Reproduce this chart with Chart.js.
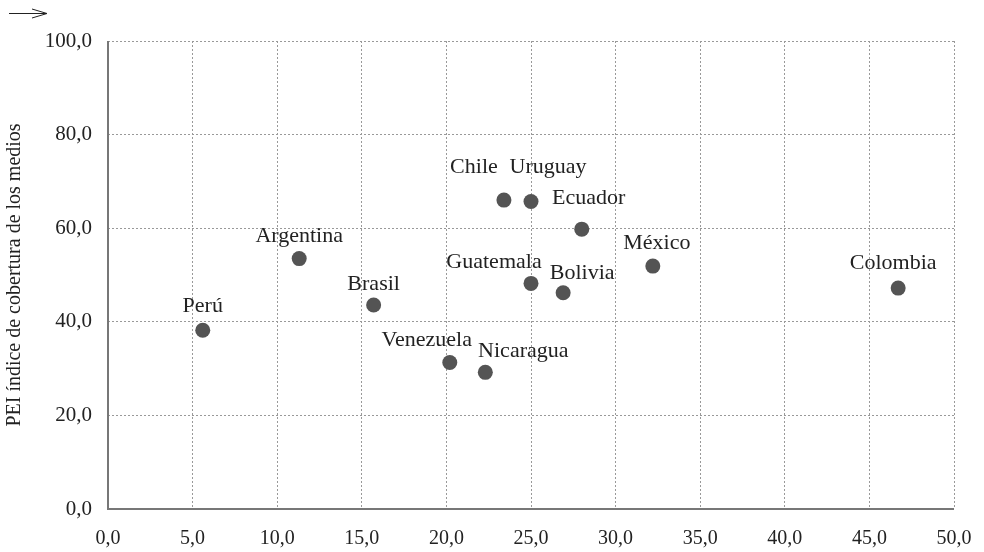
<!DOCTYPE html>
<html>
<head>
<meta charset="utf-8">
<script src="https://cdn.jsdelivr.net/npm/chart.js@4"></script>
<style>
  html, body { margin: 0; padding: 0; background: #fff; }
  #wrap { width: 984px; height: 552px; }
</style>
</head>
<body>
<div id="wrap"><canvas id="mychart"></canvas></div>
<script>
// Data
var countries = ["Perú", "Argentina", "Brasil", "Venezuela", "Nicaragua", "Chile",
                 "Uruguay", "Ecuador", "Guatemala", "Bolivia", "México", "Colombia"];
var xValues = [5.6, 11.3, 15.7, 20.2, 22.3, 23.4, 25.0, 28.0, 25.0, 26.9, 32.2, 46.7];
var yValues = [38.2, 53.5, 43.6, 31.3, 29.2, 66.0, 65.7, 59.8, 48.2, 46.2, 51.9, 47.2];
var xTicks = [0, 5, 10, 15, 20, 25, 30, 35, 40, 45, 50];
var yTicks = [0, 20, 40, 60, 80, 100];
var yTitle = "PEI índice de cobertura de los medios";

// where each label sits relative to its point (px, text baseline)
var labelDx = [0, 0, 0, -23, 38, -30, 17, 7, -37, 19, 4, -5];
var labelDy = [-18, -17, -15, -17, -15, -27, -29, -25, -15, -14, -17, -19];

var serif = "'Liberation Serif', 'DejaVu Serif', serif";

function fmt(v) {
    return v.toFixed(1).replace(".", ",");
}

var points = xValues.map(function(x, i) { return { x: x, y: yValues[i] }; });

var labelPlugin = {
    id: "labels",
    afterDatasetsDraw: function(chart) {
        var ctx = chart.ctx;
        var meta = chart.getDatasetMeta(0);
        ctx.save();
        ctx.font = "22px " + serif;
        ctx.fillStyle = "#222";
        ctx.textAlign = "center";
        ctx.textBaseline = "alphabetic";
        meta.data.forEach(function(el, i) {
            ctx.fillText(countries[i], el.x + labelDx[i], el.y + labelDy[i]);
        });
        ctx.restore();
    },
    afterDraw: function(chart) {
        var ctx = chart.ctx;
        var a = chart.chartArea;
        ctx.save();
        // solid axis lines (left and bottom)
        ctx.strokeStyle = "#777";
        ctx.lineWidth = 2;
        ctx.setLineDash([]);
        ctx.beginPath();
        ctx.moveTo(a.left, a.top);
        ctx.lineTo(a.left, a.bottom);
        ctx.lineTo(a.right, a.bottom);
        ctx.stroke();
        // little arrow in the top left corner
        ctx.strokeStyle = "#222";
        ctx.lineWidth = 1;
        ctx.beginPath();
        ctx.moveTo(9, 13.5);
        ctx.lineTo(47, 13.5);
        ctx.moveTo(32, 9);
        ctx.lineTo(47, 13.5);
        ctx.lineTo(32, 18);
        ctx.stroke();
        ctx.restore();
    }
};

window.addEventListener("load", function() {
    var canvas = document.getElementById("mychart").getContext("2d");
    new Chart(canvas, {
        type: "scatter",
        data: {
            datasets: [{
                label: "PEI",
                data: points,
                backgroundColor: "#545454",
                borderWidth: 0,
                pointRadius: 7.5,
                pointHoverRadius: 7.5
            }]
        },
        options: {
            responsive: true,
            maintainAspectRatio: false,
            animation: false,
            layout: { padding: { top: 41, right: 30, left: 0, bottom: 0 } },
            plugins: {
                legend: { display: false },
                tooltip: { enabled: false }
            },
            scales: {
                x: {
                    type: "linear",
                    min: 0,
                    max: 50,
                    afterBuildTicks: function(s) { s.ticks = xTicks.map(function(v) { return { value: v }; }); },
                    afterFit: function(s) {
                        s.height = 43;
                        s.paddingLeft = 0;
                        s.paddingRight = 0;
                    },
                    ticks: {
                        padding: 18,
                        color: "#222",
                        font: { family: serif, size: 20 },
                        callback: function(v) { return fmt(v); }
                    },
                    grid: { color: "#999", lineWidth: 1, drawTicks: false, tickLength: 0 },
                    border: { display: false, dash: [2, 2] }
                },
                y: {
                    type: "linear",
                    min: 0,
                    max: 100,
                    afterBuildTicks: function(s) { s.ticks = yTicks.map(function(v) { return { value: v }; }); },
                    afterFit: function(s) {
                        s.width = 108;
                        s.paddingTop = 0;
                        s.paddingBottom = 0;
                    },
                    title: {
                        display: true,
                        text: yTitle,
                        color: "#222",
                        font: { family: serif, size: 20 },
                        padding: { top: 3, bottom: 0 }
                    },
                    ticks: {
                        padding: 16,
                        color: "#222",
                        font: { family: serif, size: 21 },
                        callback: function(v) { return fmt(v); }
                    },
                    grid: { color: "#999", lineWidth: 1, drawTicks: false, tickLength: 0 },
                    border: { display: false, dash: [2, 2] }
                }
            }
        },
        plugins: [labelPlugin]
    });
});
</script>
</body>
</html>
